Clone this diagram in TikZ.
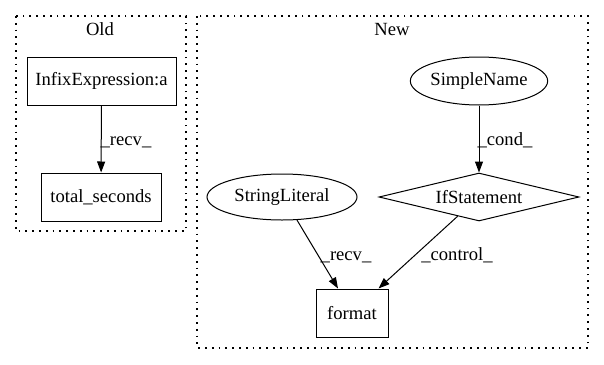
\documentclass[tikz,border=0pt]{standalone}
\usepackage{fontspec}
\setmainfont{Liberation Serif}
\usetikzlibrary{shapes.geometric,arrows.meta,calc}

\tikzset{
  every node/.style={font=\fontsize{18.6}{21}\selectfont},
  cluster/.style={draw, line width=1.3pt, dash pattern=on 1.8pt off 5pt},
  boxnode/.style={draw, rectangle, line width=1pt, minimum height=48pt, inner sep=0pt},
  ellnode/.style={draw, ellipse, line width=1pt, inner sep=0pt},
  dianode/.style={draw, diamond, line width=1pt, inner sep=0pt, aspect=4.17,
                  minimum width=200pt, minimum height=48pt},
  edge/.style={draw, line width=1pt, -{Triangle[length=11pt,width=8pt]}},
  lbl/.style={anchor=base, inner sep=0pt},
}

\begin{document}
\begin{tikzpicture}[x=1pt, y=-1pt]
  \useasboundingbox (0,0) rectangle (604,364);

  % clusters
  \draw[cluster] (16,16) rectangle (186,231);
  \draw[cluster] (197,16) rectangle (588,348);
  \node[lbl] (oldlbl) at (100,35) {Old};
  \node[lbl] (newlbl) at (392,35) {New};

  % Old
  \node[boxnode, minimum width=149pt] (infix) at (101.5,81) {InfixExpression:a};
  \node[boxnode, minimum width=120pt] (total) at (101,197) {total\_seconds};
  \draw[edge] (infix) -- (total);
  \node[lbl] (l1) at (126,145) {\_recv\_};

  % New
  \node[ellnode, minimum width=126pt, minimum height=48pt] (simple) at (479,81) {SimpleName};
  \node[ellnode, minimum width=150pt, minimum height=46pt] (strlit) at (282,197) {StringLiteral};
  \node[dianode] (ifst) at (479,197) {IfStatement};
  \node[boxnode, minimum width=72pt] (format) at (352,313) {format};

  \draw[edge] (simple) -- (ifst);
  \node[lbl] (l2) at (505,145) {\_cond\_};

  \draw[edge] (strlit.-57) -- ($(format.north)+(-14,0)$);
  \node[lbl] (l3) at (346,260) {\_recv\_};

  \draw[edge] (ifst.222) -- ($(format.north east)+(-10,0)$);
  \node[lbl] (l4) at (457,260) {\_control\_};
\end{tikzpicture}
\end{document}
